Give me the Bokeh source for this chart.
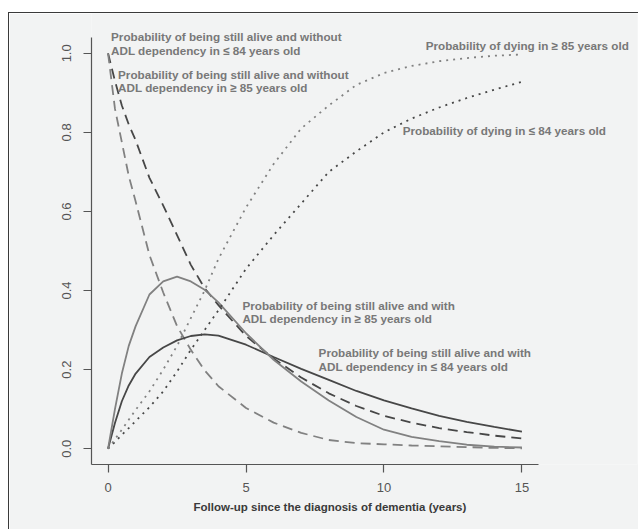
from bokeh.plotting import figure
from bokeh.models import Range1d, FixedTicker, Label, Title
from bokeh.embed import file_html
from bokeh.resources import INLINE

# Follow-up time (years)
t = [0, 0.25, 0.5, 0.75, 1, 1.5, 2, 2.5, 3, 3.5, 4, 5, 6, 7, 8, 9, 10, 11, 12, 13, 14, 15]

# Alive without ADL dependency
free_le84 = [1.0, 0.93, 0.868, 0.82, 0.78, 0.685, 0.615, 0.54, 0.465, 0.406, 0.363, 0.285,
             0.228, 0.180, 0.140, 0.108, 0.083, 0.066, 0.052, 0.042, 0.033, 0.026]
free_ge85 = [1.0, 0.86, 0.775, 0.69, 0.625, 0.49, 0.395, 0.31, 0.25, 0.198, 0.158, 0.103,
             0.066, 0.040, 0.022, 0.014, 0.011, 0.008, 0.006, 0.004, 0.002, 0.001]
# Alive with ADL dependency
dep_le84 = [0.0, 0.065, 0.12, 0.16, 0.19, 0.232, 0.256, 0.274, 0.285, 0.289, 0.286, 0.263,
            0.232, 0.202, 0.174, 0.146, 0.122, 0.102, 0.083, 0.068, 0.055, 0.043]
dep_ge85 = [0.0, 0.10, 0.19, 0.26, 0.31, 0.39, 0.423, 0.435, 0.423, 0.402, 0.37, 0.292,
            0.225, 0.170, 0.122, 0.080, 0.048, 0.030, 0.019, 0.010, 0.005, 0.003]
# Dying
dead_le84 = [0.0, 0.017, 0.035, 0.052, 0.07, 0.105, 0.145, 0.195, 0.25, 0.30, 0.35, 0.455,
             0.54, 0.62, 0.70, 0.752, 0.80, 0.835, 0.863, 0.887, 0.908, 0.928]
dead_ge85 = [0.0, 0.024, 0.048, 0.073, 0.098, 0.145, 0.20, 0.26, 0.33, 0.40, 0.48, 0.61,
             0.72, 0.81, 0.868, 0.92, 0.95, 0.968, 0.98, 0.988, 0.994, 0.997]

x_ticks = [0, 5, 10, 15]
y_ticks = [0.0, 0.2, 0.4, 0.6, 0.8, 1.0]
y_tick_labels = ["0.0", "0.2", "0.4", "0.6", "0.8", "1.0"]

annotations = [
    ("Probability of being still alive and without\nADL dependency in \u2264 84 years old", 0.109, 1.024),
    ("Probability of being still alive and without\nADL dependency in \u2265 85 years old", 0.363, 0.930),
    ("Probability of dying in \u2265 85 years old", 11.51, 1.020),
    ("Probability of dying in \u2264 84 years old", 10.68, 0.805),
    ("Probability of being still alive and with\nADL dependency in \u2265 85 years old", 4.87, 0.3456),
    ("Probability of being still alive and with\nADL dependency in \u2264 84 years old", 7.63, 0.2266),
]
x_title = "Follow-up since the diagnosis of dementia (years)"

BG = "#f2f3f3"
DARK = "#474747"
LIGHT = "#818181"
TXT = "#787878"
FONT = "Liberation Sans"

# layout (pixels)
W, H = 630, 517
LEFT, RIGHT, TOP, BOTTOM = 82, 2, 0, 66
x_lo, x_hi = -0.6, 15.6       # axis extent (R style 4% padding)
y_lo, y_hi = -0.04, 1.04
ppu_x = 447 / (x_hi - x_lo)
ppu_y = 427 / (y_hi - y_lo)
frame_w = W - LEFT - RIGHT
frame_h = H - TOP - BOTTOM

p = figure(width=W, height=H, output_backend="svg", toolbar_location=None,
           x_range=Range1d(x_lo, x_lo + frame_w / ppu_x),
           y_range=Range1d(y_lo, y_lo + frame_h / ppu_y),
           min_border_left=LEFT, min_border_right=RIGHT, min_border_top=TOP,
           min_border_bottom=BOTTOM)
p.margin = (12, 0, 0, 8)
p.styles = {"border-top": "1px solid #3a3a3a", "border-left": "1px solid #3a3a3a",
            "box-sizing": "border-box"}
p.background_fill_color = BG
p.border_fill_color = BG
p.outline_line_color = None
p.grid.visible = False

for ax in (p.xaxis[0], p.yaxis[0]):
    ax.axis_line_color = "#555555"
    ax.axis_line_width = 1.2
    ax.major_tick_line_color = "#555555"
    ax.major_tick_line_width = 1.2
    ax.major_tick_in = 0
    ax.major_tick_out = 8
    ax.minor_tick_line_color = None
    ax.major_label_text_font = FONT
    ax.major_label_text_font_size = "13px"
    ax.major_label_text_color = "#555555"
    ax.major_label_standoff = 10

p.xaxis.bounds = (x_lo, x_hi)
p.yaxis.bounds = (y_lo, y_hi)
p.xaxis.ticker = FixedTicker(ticks=x_ticks)
p.yaxis.ticker = FixedTicker(ticks=y_ticks)
p.yaxis.major_label_overrides = {v: s for v, s in zip(y_ticks, y_tick_labels)}
p.yaxis.major_label_orientation = "vertical"
p.yaxis.major_label_standoff = 12

lw = 1.8
p.line(t, free_le84, line_color=DARK, line_width=lw, line_dash="10 6")
p.line(t, free_ge85, line_color=LIGHT, line_width=lw, line_dash="10 6")
p.line(t, dep_le84, line_color=DARK, line_width=lw)
p.line(t, dep_ge85, line_color=LIGHT, line_width=lw)
p.line(t, dead_le84, line_color=DARK, line_width=lw, line_dash="2 5")
p.line(t, dead_ge85, line_color=LIGHT, line_width=lw, line_dash="2 5")

for txt, xx, yy in annotations:
    p.add_layout(Label(x=xx, y=yy, text=txt, text_font=FONT, text_font_size="11.7px",
                       text_font_style="bold", text_color=TXT, text_align="left",
                       text_baseline="middle", text_line_height=1.07))

title = Title(text=x_title, text_font=FONT, text_font_size="11.5px", text_font_style="bold",
              text_color="#3a3a3a", align="left", offset=102, standoff=9)
p.add_layout(title, "below")

open("out.html", "w").write(file_html(p, INLINE))
